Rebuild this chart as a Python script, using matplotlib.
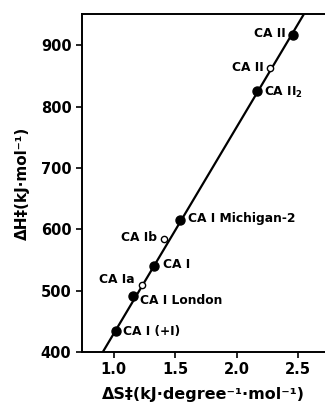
import matplotlib
matplotlib.use('Agg')
import matplotlib.pyplot as plt

# enthalpy / entropy of activation for carbonic anhydrase variants
filled_names = ['CA II', 'CA II$_2$', 'CA I Michigan-2', 'CA I', 'CA I London', 'CA I (+I)']
filled_ds = [2.46, 2.17, 1.54, 1.33, 1.16, 1.02]
filled_dh = [916, 825, 615, 541, 491, 434]

open_names = ['CA II', 'CA Ib', 'CA Ia']
open_ds = [2.27, 1.41, 1.23]
open_dh = [862, 584, 509]

line_ds = [0.91, 2.60]
line_dh = [400, 968]

xticks = [1.0, 1.5, 2.0, 2.5]
xticklabels = ['1.0', '1.5', '2.0', '2.5']
yticks = [400, 500, 600, 700, 800, 900]

plt.rcParams['font.family'] = ['DejaVu Sans']
plt.rcParams['font.weight'] = 'bold'

fig = plt.figure(figsize=(3.25, 4.07), dpi=100)
ax = fig.add_axes([0.252, 0.135, 0.748, 0.831])

ax.plot(line_ds, line_dh, color='black', lw=1.6, zorder=1)
ax.plot(filled_ds, filled_dh, 'o', color='black', ms=6.5, zorder=3)
ax.plot(open_ds, open_dh, 'o', mfc='white', mec='black', mew=1.0, ms=4.5, zorder=3)

fs = 8.8
# label offsets in points: (dx, dy, ha)
filled_off = [(-5, 1, 'right'), (5, -1, 'left'), (6, 1, 'left'),
              (6, 1, 'left'), (5, -3, 'left'), (5, 0, 'left')]
open_off = [(-4, 1, 'right'), (-5, 1, 'right'), (-5, 4, 'right')]
for name, x, y, (dx, dy, ha) in zip(filled_names, filled_ds, filled_dh, filled_off):
    ax.annotate(name, (x, y), xytext=(dx, dy), textcoords='offset points',
                ha=ha, va='center', fontsize=fs, fontweight='bold')
for name, x, y, (dx, dy, ha) in zip(open_names, open_ds, open_dh, open_off):
    ax.annotate(name, (x, y), xytext=(dx, dy), textcoords='offset points',
                ha=ha, va='center', fontsize=fs, fontweight='bold')

ax.set_xlim(0.74, 2.72)
ax.set_ylim(400, 951)
ax.set_xticks(xticks)
ax.set_xticklabels(xticklabels)
ax.set_yticks(yticks)
ax.tick_params(direction='out', length=4, width=1.2, labelsize=10.5)
for lab in ax.get_xticklabels() + ax.get_yticklabels():
    lab.set_fontweight('bold')

ax.spines['right'].set_visible(False)
for s in ['left', 'top', 'bottom']:
    ax.spines[s].set_linewidth(1.4)

ax.set_xlabel('ΔS‡(kJ·degree⁻¹·mol⁻¹)', fontsize=11.5, fontweight='bold', labelpad=7)
ax.set_ylabel('ΔH‡(kJ·mol⁻¹)', fontsize=11, fontweight='bold', labelpad=8)

fig.savefig('out.png', dpi=100)
